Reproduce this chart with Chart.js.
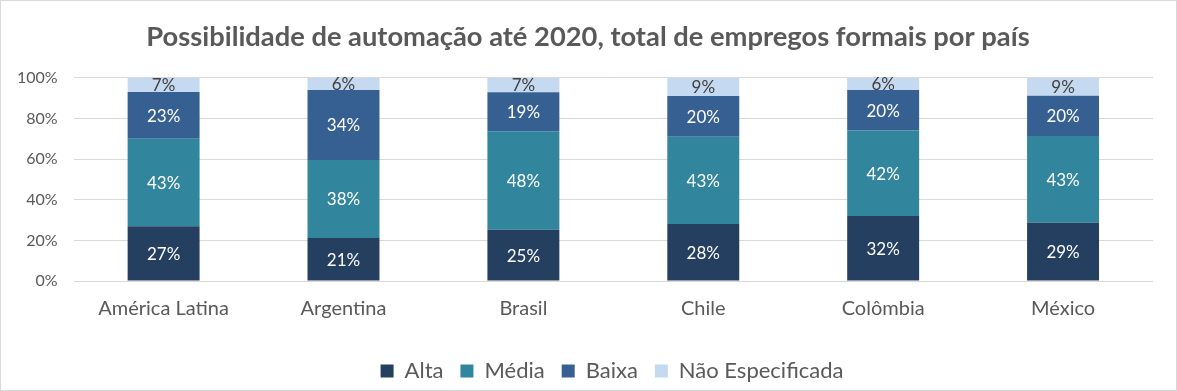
<!DOCTYPE html>
<html>
<head>
<meta charset="utf-8">
<script src="https://cdn.jsdelivr.net/npm/chart.js@4"></script>
<style>
  html, body { margin: 0; padding: 0; background: #ffffff; }
  #wrap {
    width: 1177px; height: 391px; box-sizing: border-box;
    border: 1px solid #d9d9d9; background: #ffffff;
  }
  #chart { display: block; }
</style>
</head>
<body>
<div id="wrap"><canvas id="chart" width="1175" height="389"></canvas></div>
<script>
// Chart data
const paises = ["América Latina", "Argentina", "Brasil", "Chile", "Colômbia", "México"]
const alta = [27, 21, 25, 28, 32, 29]
const media = [43, 38, 48, 43, 42, 43]
const baixa = [23, 34, 19, 20, 20, 20]
const naoEspecificada = [7, 6, 7, 9, 6, 9]
const yTicks = [0, 20, 40, 60, 80, 100]

const series = [
  { label: "Alta", values: alta, color: "#243f60", text: "#ffffff" },
  { label: "Média", values: media, color: "#31859c", text: "#ffffff" },
  { label: "Baixa", values: baixa, color: "#366092", text: "#ffffff" },
  { label: "Não Especificada", values: naoEspecificada, color: "#c5d9f1", text: "#404040" },
]

// 100% stacked: normalise each column like Excel does
const totals = paises.map((_, i) => series.reduce((s, d) => s + d.values[i], 0))

// Draw the raw percentages in the middle of each segment
const segmentLabels = {
  id: "segmentLabels",
  afterDatasetsDraw(chart) {
    const ctx = chart.ctx
    ctx.save()
    ctx.font = "17px Lato"
    ctx.textAlign = "center"
    ctx.textBaseline = "middle"
    chart.data.datasets.forEach((ds, di) => {
      chart.getDatasetMeta(di).data.forEach((bar, i) => {
        const p = bar.getProps(["x", "y", "base"], true)
        ctx.fillStyle = series[di].text
        ctx.fillText(series[di].values[i] + "%", p.x, (p.y + p.base) / 2 + 1)
      })
    })
    ctx.restore()
  },
}

// Shift title and legend a little, like the original
const blockNudge = {
  id: "blockNudge",
  afterLayout(chart) {
    chart.titleBlock.left += 22
    const lg = chart.legend
    lg.left += 70
    lg.top += 6
    lg.bottom += 6
  },
}

const ctx = document.getElementById("chart").getContext("2d")
new Chart(ctx, {
  type: "bar",
  data: {
    labels: paises,
    datasets: series.map((s) => ({
      label: s.label,
      data: s.values.map((v, i) => (v / totals[i]) * 100),
      backgroundColor: s.color,
      borderWidth: 0,
      barPercentage: 0.4,
      categoryPercentage: 1,
    })),
  },
  options: {
    responsive: false,
    animation: false,
    layout: { padding: { left: 0, right: 23, top: 0, bottom: 4 } },
    scales: {
      x: {
        stacked: true,
        grid: { display: false, drawTicks: false },
        border: { display: false },
        ticks: { color: "#595959", font: { family: "Lato", size: 20 }, padding: 16 },
        afterFit: (scale) => {
          // labels sit inside their categories, no extra side padding needed
          scale.paddingLeft = 0
          scale.paddingRight = 0
        },
      },
      y: {
        stacked: true,
        min: 0,
        max: 100,
        afterBuildTicks: (axis) => {
          axis.ticks = yTicks.map((v) => ({ value: v }))
        },
        grid: { color: "#d9d9d9", drawTicks: false },
        border: { display: false },
        ticks: {
          color: "#595959",
          font: { family: "Lato", size: 16 },
          padding: 16,
          callback: (v) => v + "%",
        },
      },
    },
    plugins: {
      title: {
        display: true,
        text: "Possibilidade de automação até 2020, total de empregos formais por país",
        color: "#595959",
        font: { family: "Lato", size: 27.3, weight: "bold" },
        padding: { top: 20, bottom: 24 },
      },
      legend: {
        position: "bottom",
        labels: {
          color: "#595959",
          font: { family: "Lato", size: 22 },
          boxWidth: 13,
          boxHeight: 13,
          padding: 17,
        },
      },
      tooltip: { enabled: false },
    },
  },
  plugins: [segmentLabels, blockNudge],
})
</script>
</body>
</html>
